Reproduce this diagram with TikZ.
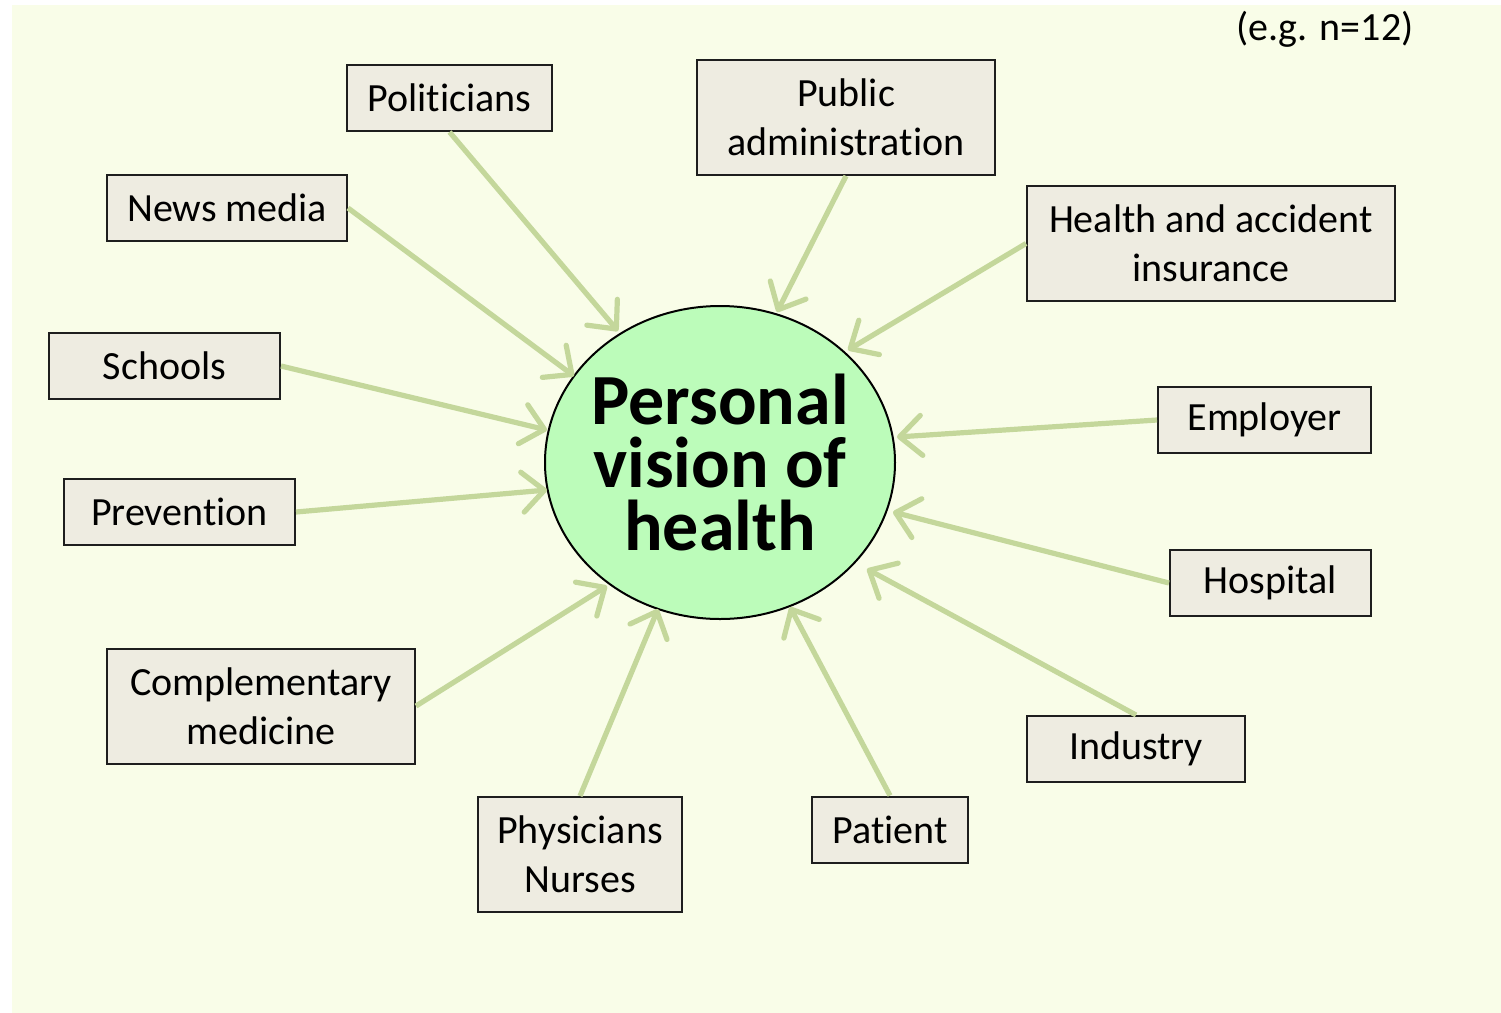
\documentclass[tikz,border=0pt]{standalone}
\usepackage{fontspec}
\setmainfont{Carlito}[Ligatures=NoCommon]
\usetikzlibrary{arrows.meta,shapes.geometric}
\definecolor{bgc}{RGB}{249,253,232}
\definecolor{boxfill}{RGB}{238,236,225}
\definecolor{boxline}{RGB}{30,30,30}
\definecolor{circfill}{RGB}{188,252,186}
\definecolor{arrc}{RGB}{196,215,155}
\tikzset{
  box/.style={draw=boxline, line width=1pt, fill=boxfill, rectangle, inner sep=0pt,
    align=center, font=\fontsize{20pt}{24.5pt}\selectfont, minimum height=33pt},
  tall/.style={minimum height=57.5pt},
  influence/.style={draw=arrc, line width=2.6pt, -{Straight Barb[length=11pt,width=20pt,round]}},
}
\begin{document}
\begin{tikzpicture}[x=0.5pt,y=-0.5pt]
\useasboundingbox (0,0) rectangle (1501,1013);
\fill[bgc] (12,5) rectangle (1501,1013);

\node[draw=black, line width=1pt, fill=circfill, ellipse, inner sep=0pt,
  minimum width=175pt, minimum height=156.5pt] (c) at (720,462.5) {};
\node[align=center, inner sep=0pt,
  font=\fontsize{36pt}{31.5pt}\selectfont\bfseries] (ct) at (c.center)
  {Personal\\vision of\\health};

\node[font=\fontsize{20pt}{24pt}\selectfont] (eg) at (1325,29) {(e.g. n=12)};

\node[box, minimum width=102.5pt] (pol) at (449.5,98) {Politicians};
\node[box, tall, minimum width=149pt] (pub) at (846,117.5) {Public\\administration};
\node[box, minimum width=120pt] (news) at (227,208) {News media};
\node[box, tall, minimum width=184pt] (ins) at (1211,243.5) {Health and accident\\insurance};
\node[box, minimum width=115.5pt] (sch) at (164.5,366) {Schools};
\node[box, minimum width=106.5pt] (emp) at (1264.5,420) {Employer};
\node[box, minimum width=115.5pt] (prev) at (179.5,512) {Prevention};
\node[box, minimum width=100.5pt] (hosp) at (1270.5,583) {Hospital};
\node[box, tall, minimum width=154pt] (comp) at (261,706) {Complementary\\medicine};
\node[box, minimum width=109pt] (ind) at (1136,749) {Industry};
\node[box, tall, minimum width=102pt] (phys) at (580,854.5) {Physicians\\Nurses};
\node[box, minimum width=78pt] (pat) at (890,829.5) {Patient};

\coordinate (tpol) at (618,331);
\coordinate (tpub) at (777,312);
\coordinate (tnews) at (574,376);
\coordinate (tins) at (848,350);
\coordinate (tsch) at (547,430);
\coordinate (temp) at (897,437);
\coordinate (tprev) at (547,490);
\coordinate (thosp) at (893,512);
\coordinate (tcomp) at (607,586);
\coordinate (tind) at (867,569);
\coordinate (tphys) at (658,609);
\coordinate (tpat) at (790,607);

\draw[influence] (pol.south) -- (tpol);
\draw[influence] (pub.south) -- (tpub);
\draw[influence] (news.east) -- (tnews);
\draw[influence] (ins.west) -- (tins);
\draw[influence] (sch.east) -- (tsch);
\draw[influence] (emp.west) -- (temp);
\draw[influence] (prev.east) -- (tprev);
\draw[influence] (hosp.west) -- (thosp);
\draw[influence] (comp.east) -- (tcomp);
\draw[influence] (ind.north) -- (tind);
\draw[influence] (phys.north) -- (tphys);
\draw[influence] (pat.north) -- (tpat);
\end{tikzpicture}
\end{document}
